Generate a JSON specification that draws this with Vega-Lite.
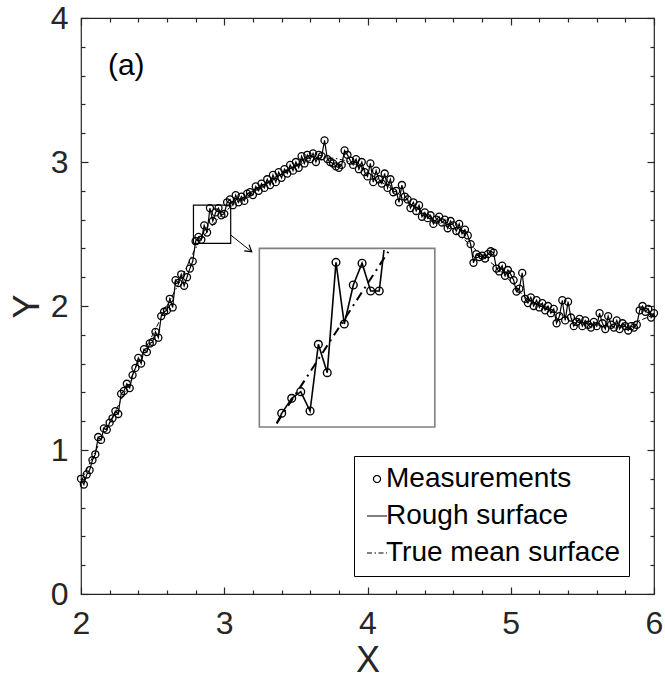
{
  "$schema": "https://vega.github.io/schema/vega-lite/v6.json",
  "width": 573,
  "height": 576,
  "autosize": {"type": "none"},
  "padding": {"left": 81, "top": 18, "right": 11, "bottom": 90},
  "background": "white",
  "config": {
    "view": {"stroke": "#262626", "strokeWidth": 1.2},
    "font": "Liberation Sans",
    "axis": {
      "grid": false,
      "domain": false,
      "ticks": true,
      "tickColor": "#262626",
      "tickWidth": 1.2,
      "labelColor": "#262626",
      "titleColor": "#262626",
      "labelFont": "Liberation Sans",
      "titleFont": "Liberation Sans",
      "labelFontSize": 32,
      "titleFontSize": 36,
      "titleFontWeight": "normal",
      "labelOverlap": false,
      "labelFlush": false
    }
  },
  "datasets": {
    "meas": [
      {"x":2.00,"y":0.80},{"x":2.02,"y":0.76},{"x":2.04,"y":0.83},{"x":2.06,"y":0.86},{"x":2.08,"y":0.93},
      {"x":2.10,"y":0.97},{"x":2.12,"y":1.09},{"x":2.14,"y":1.07},{"x":2.16,"y":1.15},{"x":2.18,"y":1.14},
      {"x":2.20,"y":1.19},{"x":2.22,"y":1.22},{"x":2.24,"y":1.27},{"x":2.26,"y":1.25},{"x":2.28,"y":1.39},
      {"x":2.30,"y":1.41},{"x":2.32,"y":1.46},{"x":2.34,"y":1.43},{"x":2.36,"y":1.52},{"x":2.38,"y":1.57},
      {"x":2.40,"y":1.64},{"x":2.42,"y":1.60},{"x":2.44,"y":1.70},{"x":2.46,"y":1.68},{"x":2.48,"y":1.74},
      {"x":2.50,"y":1.75},{"x":2.52,"y":1.82},{"x":2.54,"y":1.78},{"x":2.56,"y":1.93},{"x":2.58,"y":1.96},
      {"x":2.60,"y":1.97},{"x":2.62,"y":2.05},{"x":2.64,"y":1.99},{"x":2.66,"y":2.18},{"x":2.68,"y":2.16},
      {"x":2.70,"y":2.22},{"x":2.72,"y":2.14},{"x":2.74,"y":2.20},{"x":2.76,"y":2.26},{"x":2.78,"y":2.31},
      {"x":2.80,"y":2.45},{"x":2.82,"y":2.48},{"x":2.84,"y":2.46},{"x":2.86,"y":2.56},{"x":2.88,"y":2.51},
      {"x":2.90,"y":2.68},{"x":2.92,"y":2.59},{"x":2.94,"y":2.65},{"x":2.96,"y":2.68},{"x":2.98,"y":2.63},
      {"x":3.00,"y":2.64},{"x":3.02,"y":2.72},{"x":3.04,"y":2.74},{"x":3.06,"y":2.70},{"x":3.08,"y":2.77},
      {"x":3.10,"y":2.72},{"x":3.12,"y":2.76},{"x":3.14,"y":2.73},{"x":3.16,"y":2.78},{"x":3.18,"y":2.79},
      {"x":3.20,"y":2.77},{"x":3.22,"y":2.83},{"x":3.24,"y":2.80},{"x":3.26,"y":2.85},{"x":3.28,"y":2.82},
      {"x":3.30,"y":2.88},{"x":3.32,"y":2.84},{"x":3.34,"y":2.91},{"x":3.36,"y":2.86},{"x":3.38,"y":2.93},
      {"x":3.40,"y":2.89},{"x":3.42,"y":2.95},{"x":3.44,"y":2.92},{"x":3.46,"y":2.98},{"x":3.48,"y":2.94},
      {"x":3.50,"y":3.00},{"x":3.52,"y":2.96},{"x":3.54,"y":3.04},{"x":3.56,"y":2.99},{"x":3.58,"y":3.05},
      {"x":3.60,"y":3.02},{"x":3.62,"y":3.06},{"x":3.64,"y":3.00},{"x":3.66,"y":3.05},{"x":3.68,"y":3.04},
      {"x":3.70,"y":3.15},{"x":3.72,"y":3.02},{"x":3.74,"y":3.00},{"x":3.76,"y":2.99},{"x":3.78,"y":2.97},
      {"x":3.80,"y":2.96},{"x":3.82,"y":2.98},{"x":3.84,"y":3.08},{"x":3.86,"y":3.05},{"x":3.88,"y":3.01},
      {"x":3.90,"y":2.98},{"x":3.92,"y":3.02},{"x":3.94,"y":2.95},{"x":3.96,"y":3.00},{"x":3.98,"y":2.93},
      {"x":4.00,"y":2.90},{"x":4.02,"y":2.99},{"x":4.04,"y":2.86},{"x":4.06,"y":2.94},{"x":4.08,"y":2.88},
      {"x":4.10,"y":2.85},{"x":4.12,"y":2.92},{"x":4.14,"y":2.82},{"x":4.16,"y":2.88},{"x":4.18,"y":2.79},
      {"x":4.20,"y":2.80},{"x":4.22,"y":2.72},{"x":4.24,"y":2.84},{"x":4.26,"y":2.76},{"x":4.28,"y":2.74},
      {"x":4.30,"y":2.68},{"x":4.32,"y":2.72},{"x":4.34,"y":2.66},{"x":4.36,"y":2.70},{"x":4.38,"y":2.62},
      {"x":4.40,"y":2.65},{"x":4.42,"y":2.61},{"x":4.44,"y":2.63},{"x":4.46,"y":2.57},{"x":4.48,"y":2.60},
      {"x":4.50,"y":2.62},{"x":4.52,"y":2.58},{"x":4.54,"y":2.60},{"x":4.56,"y":2.54},{"x":4.58,"y":2.59},
      {"x":4.60,"y":2.56},{"x":4.62,"y":2.52},{"x":4.64,"y":2.57},{"x":4.66,"y":2.50},{"x":4.68,"y":2.53},
      {"x":4.70,"y":2.49},{"x":4.72,"y":2.43},{"x":4.74,"y":2.30},{"x":4.76,"y":2.36},{"x":4.78,"y":2.34},
      {"x":4.80,"y":2.35},{"x":4.82,"y":2.33},{"x":4.84,"y":2.36},{"x":4.86,"y":2.38},{"x":4.88,"y":2.37},
      {"x":4.90,"y":2.26},{"x":4.92,"y":2.24},{"x":4.94,"y":2.28},{"x":4.96,"y":2.21},{"x":4.98,"y":2.25},
      {"x":5.00,"y":2.22},{"x":5.02,"y":2.18},{"x":5.04,"y":2.10},{"x":5.06,"y":2.12},{"x":5.08,"y":2.23},
      {"x":5.10,"y":2.05},{"x":5.12,"y":2.02},{"x":5.14,"y":2.06},{"x":5.16,"y":2.00},{"x":5.18,"y":2.04},
      {"x":5.20,"y":1.99},{"x":5.22,"y":2.02},{"x":5.24,"y":1.97},{"x":5.26,"y":2.00},{"x":5.28,"y":1.95},
      {"x":5.30,"y":1.98},{"x":5.32,"y":1.88},{"x":5.34,"y":1.93},{"x":5.36,"y":2.04},{"x":5.38,"y":1.90},
      {"x":5.40,"y":2.03},{"x":5.42,"y":1.92},{"x":5.44,"y":1.86},{"x":5.46,"y":1.89},{"x":5.48,"y":1.91},
      {"x":5.50,"y":1.86},{"x":5.52,"y":1.90},{"x":5.54,"y":1.87},{"x":5.56,"y":1.85},{"x":5.58,"y":1.89},
      {"x":5.60,"y":1.86},{"x":5.62,"y":1.95},{"x":5.64,"y":1.88},{"x":5.66,"y":1.84},{"x":5.68,"y":1.93},
      {"x":5.70,"y":1.87},{"x":5.72,"y":1.85},{"x":5.74,"y":1.90},{"x":5.76,"y":1.84},{"x":5.78,"y":1.88},
      {"x":5.80,"y":1.86},{"x":5.82,"y":1.83},{"x":5.84,"y":1.86},{"x":5.86,"y":1.85},{"x":5.88,"y":1.87},
      {"x":5.90,"y":1.97},{"x":5.92,"y":2.00},{"x":5.94,"y":1.96},{"x":5.96,"y":1.98},{"x":5.98,"y":1.92},
      {"x":6.00,"y":1.95}
    ],
    "mean": [
      {"x":2.0,"y":0.78},{"x":2.1,"y":0.99},{"x":2.2,"y":1.19},{"x":2.3,"y":1.39},{"x":2.4,"y":1.61},
      {"x":2.5,"y":1.80},{"x":2.6,"y":2.00},{"x":2.7,"y":2.19},{"x":2.8,"y":2.40},{"x":2.9,"y":2.54},
      {"x":3.0,"y":2.65},{"x":3.1,"y":2.73},{"x":3.2,"y":2.80},{"x":3.3,"y":2.86},{"x":3.4,"y":2.92},
      {"x":3.5,"y":2.97},{"x":3.6,"y":3.01},{"x":3.7,"y":3.03},{"x":3.8,"y":3.02},{"x":3.9,"y":2.99},
      {"x":4.0,"y":2.93},{"x":4.1,"y":2.86},{"x":4.2,"y":2.79},{"x":4.3,"y":2.71},{"x":4.4,"y":2.64},
      {"x":4.5,"y":2.58},{"x":4.6,"y":2.52},{"x":4.7,"y":2.44},{"x":4.8,"y":2.35},{"x":4.9,"y":2.27},
      {"x":5.0,"y":2.17},{"x":5.1,"y":2.06},{"x":5.2,"y":2.00},{"x":5.3,"y":1.96},{"x":5.4,"y":1.92},
      {"x":5.5,"y":1.89},{"x":5.6,"y":1.87},{"x":5.7,"y":1.86},{"x":5.8,"y":1.87},{"x":5.9,"y":1.90},
      {"x":6.0,"y":1.94}
    ],
    "insetPts": [
      {"x":3.401,"y":1.255},{"x":3.471,"y":1.359},{"x":3.534,"y":1.405},{"x":3.599,"y":1.271},
      {"x":3.657,"y":1.734},{"x":3.719,"y":1.537},{"x":3.780,"y":2.303},{"x":3.838,"y":1.875},
      {"x":3.901,"y":2.146},{"x":3.962,"y":2.297},{"x":4.022,"y":2.104},{"x":4.082,"y":2.104}
    ],
    "insetLine": [
      {"x":3.366,"y":1.185},
      {"x":3.401,"y":1.255},{"x":3.471,"y":1.359},{"x":3.534,"y":1.405},{"x":3.599,"y":1.271},
      {"x":3.657,"y":1.734},{"x":3.719,"y":1.537},{"x":3.780,"y":2.303},{"x":3.838,"y":1.875},
      {"x":3.901,"y":2.146},{"x":3.962,"y":2.297},{"x":4.022,"y":2.104},{"x":4.082,"y":2.104},
      {"x":4.115,"y":2.389}
    ],
    "insetMean": [
      {"x":3.366,"y":1.185},{"x":4.145,"y":2.377}
    ]
  },
  "resolve": {"axis": {"x": "independent", "y": "independent"}},
  "layer": [
    {
      "data": {"name": "mean"},
      "mark": {"type": "line", "color": "black", "strokeWidth": 1, "interpolate": "monotone"},
      "encoding": {
        "x": {"field": "x", "type": "quantitative", "scale": {"domain": [2, 6], "nice": false, "zero": false},
          "axis": {"orient": "bottom", "values": [2.2,2.4,2.6,2.8,3.2,3.4,3.6,3.8,4.2,4.4,4.6,4.8,5.2,5.4,5.6,5.8], "labels": false, "title": null, "tickSize": -4}},
        "y": {"field": "y", "type": "quantitative", "scale": {"domain": [0, 4], "nice": false, "zero": false},
          "axis": {"orient": "left", "values": [0.2,0.4,0.6,0.8,1.2,1.4,1.6,1.8,2.2,2.4,2.6,2.8,3.2,3.4,3.6,3.8], "labels": false, "title": null, "tickSize": -4}},
        "strokeDash": {
          "datum": "True mean surface", "type": "nominal",
          "scale": {"domain": ["Measurements", "Rough surface", "True mean surface"], "range": [[1, 0], [1, 0], [5, 2.5, 1.5, 2.5]]},
          "legend": {"title": null, "orient": "none", "legendX": 273, "legendY": 438, "direction": "vertical", "strokeColor": "#000", "fillColor": "#fff", "padding": 9, "rowPadding": 9, "labelFontSize": 28, "labelFont": "Liberation Sans", "labelColor": "#000", "labelOffset": -5, "labelLimit": 400, "symbolSize": 256, "symbolStrokeColor": "#000", "symbolStrokeWidth": 1.2, "symbolFillColor": "transparent"}
        }
      }
    },
    {
      "data": {"name": "meas"},
      "mark": {"type": "line", "color": "black", "strokeWidth": 1.2},
      "encoding": {
        "x": {"field": "x", "type": "quantitative", "scale": {"domain": [2, 6], "nice": false, "zero": false},
          "axis": {"orient": "top", "values": [2,3,4,5,6], "labels": false, "title": null, "tickSize": -7}},
        "y": {"field": "y", "type": "quantitative", "scale": {"domain": [0, 4], "nice": false, "zero": false},
          "axis": {"orient": "right", "values": [0,1,2,3,4], "labels": false, "title": null, "tickSize": -7}},
        "strokeDash": {
          "datum": "Rough surface", "type": "nominal",
          "scale": {"domain": ["Measurements", "Rough surface", "True mean surface"], "range": [[1, 0], [1, 0], [5, 2.5, 1.5, 2.5]]},
          "legend": {"title": null, "orient": "none", "legendX": 273, "legendY": 438, "direction": "vertical", "strokeColor": "#000", "fillColor": "#fff", "padding": 9, "rowPadding": 9, "labelFontSize": 28, "labelFont": "Liberation Sans", "labelColor": "#000", "labelOffset": -5, "labelLimit": 400, "symbolSize": 256, "symbolStrokeColor": "#000", "symbolStrokeWidth": 1.2, "symbolFillColor": "transparent"}
        }
      }
    },
    {
      "data": {"name": "meas"},
      "mark": {"type": "point", "filled": false, "color": "black", "strokeWidth": 1.3, "opacity": 1, "size": 256},
      "encoding": {
        "x": {"field": "x", "type": "quantitative", "scale": {"domain": [2, 6], "nice": false, "zero": false},
          "axis": {"orient": "bottom", "values": [2,3,4,5,6], "offset": -7, "tickSize": 7, "labelPadding": 14, "title": "X", "titlePadding": 4}},
        "y": {"field": "y", "type": "quantitative", "scale": {"domain": [0, 4], "nice": false, "zero": false},
          "axis": {"orient": "left", "values": [0,1,2,3,4], "offset": -7, "tickSize": 7, "labelPadding": 13, "title": "Y", "titlePadding": 4}},
        "shape": {
          "datum": "Measurements", "type": "nominal",
          "scale": {"domain": ["Measurements", "Rough surface", "True mean surface"], "range": ["M0.44,0A0.44,0.44,0,1,1,-0.44,0A0.44,0.44,0,1,1,0.44,0Z", "M-1.25,0L1.25,0", "M-1.25,0L1.25,0"]},
          "legend": {"title": null, "orient": "none", "legendX": 273, "legendY": 438, "direction": "vertical", "strokeColor": "#000", "fillColor": "#fff", "padding": 9, "rowPadding": 9, "labelFontSize": 28, "labelFont": "Liberation Sans", "labelColor": "#000", "labelOffset": -5, "labelLimit": 400, "symbolSize": 256, "symbolStrokeColor": "#000", "symbolStrokeWidth": 1.2, "symbolFillColor": "transparent"}
        }
      }
    },
    {
      "data": {"name": "insetLine"},
      "mark": {"type": "line", "color": "black", "strokeWidth": 1.6},
      "encoding": {
        "x": {"field": "x", "type": "quantitative",
          "axis": {"orient": "top", "values": [2.2,2.4,2.6,2.8,3.2,3.4,3.6,3.8,4.2,4.4,4.6,4.8,5.2,5.4,5.6,5.8], "labels": false, "title": null, "tickSize": -4}},
        "y": {"field": "y", "type": "quantitative",
          "axis": {"orient": "right", "values": [0.2,0.4,0.6,0.8,1.2,1.4,1.6,1.8,2.2,2.4,2.6,2.8,3.2,3.4,3.6,3.8], "labels": false, "title": null, "tickSize": -4}}
      }
    },
    {
      "data": {"values": [{}]},
      "mark": {"type": "rect", "filled": false, "stroke": "black", "strokeWidth": 1.2},
      "encoding": {
        "x": {"datum": 2.785, "type": "quantitative", "axis": null},
        "x2": {"datum": 3.045},
        "y": {"datum": 2.435, "type": "quantitative", "axis": null},
        "y2": {"datum": 2.70}
      }
    },
    {
      "data": {"values": [{}]},
      "mark": {"type": "rule", "color": "black", "strokeWidth": 1},
      "encoding": {
        "x": {"datum": 3.045, "type": "quantitative", "axis": null},
        "y": {"datum": 2.493, "type": "quantitative", "axis": null},
        "x2": {"datum": 3.192},
        "y2": {"datum": 2.377}
      }
    },
    {
      "data": {"values": [{}]},
      "mark": {"type": "point", "shape": "M-1,-0.6L0,0L-1,0.6", "filled": false, "stroke": "black", "strokeWidth": 1.2, "size": 170, "angle": 38, "opacity": 1},
      "encoding": {
        "x": {"datum": 3.192, "type": "quantitative", "axis": null},
        "y": {"datum": 2.377, "type": "quantitative", "axis": null}
      }
    },
    {
      "data": {"values": [{}]},
      "mark": {"type": "rect", "filled": false, "stroke": "#808080", "strokeWidth": 1.6},
      "encoding": {
        "x": {"datum": 3.245, "type": "quantitative", "axis": null},
        "x2": {"datum": 4.47},
        "y": {"datum": 1.16, "type": "quantitative", "axis": null},
        "y2": {"datum": 2.40}
      }
    },
    {
      "data": {"name": "insetMean"},
      "mark": {"type": "line", "color": "black", "strokeWidth": 2, "strokeDash": [9, 5, 2, 5]},
      "encoding": {
        "x": {"field": "x", "type": "quantitative", "axis": null},
        "y": {"field": "y", "type": "quantitative", "axis": null}
      }
    },
    {
      "data": {"name": "insetPts"},
      "mark": {"type": "point", "shape": "circle", "filled": false, "color": "black", "strokeWidth": 1.4, "size": 60, "opacity": 1},
      "encoding": {
        "x": {"field": "x", "type": "quantitative", "axis": null},
        "y": {"field": "y", "type": "quantitative", "axis": null}
      }
    },
    {
      "data": {"values": [{}]},
      "mark": {"type": "text", "text": "(a)", "font": "Liberation Sans", "fontSize": 30, "align": "left", "baseline": "alphabetic", "color": "black"},
      "encoding": {
        "x": {"datum": 2.188, "type": "quantitative", "axis": null},
        "y": {"datum": 3.604, "type": "quantitative", "axis": null}
      }
    }
  ]
}
